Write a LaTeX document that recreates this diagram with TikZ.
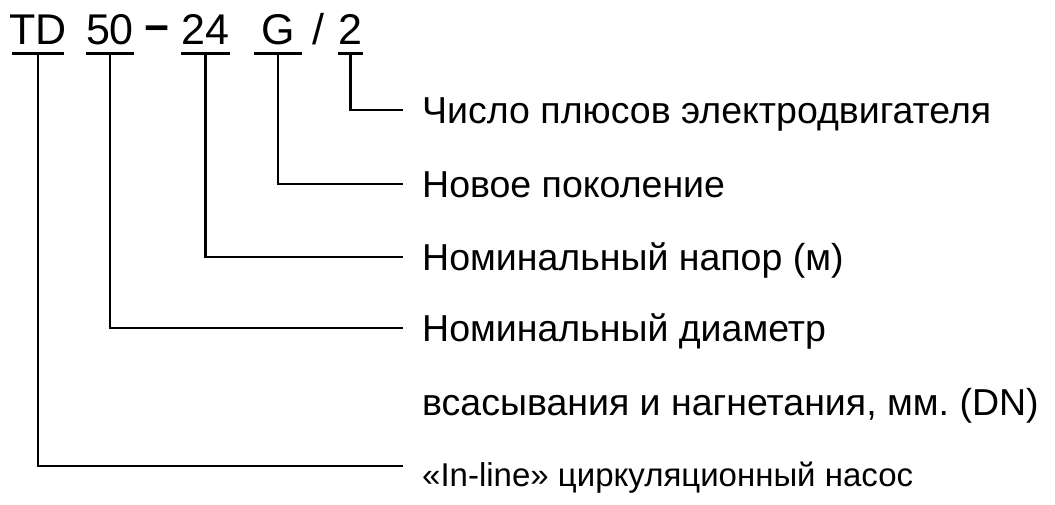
\documentclass[tikz,border=0pt]{standalone}
\usepackage{fontspec}
\setmainfont{Liberation Sans}
\usetikzlibrary{positioning}
\tikzstyle{code}=[anchor=base, inner sep=0pt, text depth=9.3pt, font=\fontsize{43}{43}\selectfont]
\tikzstyle{lbl}=[anchor=west, inner xsep=19pt, inner ysep=0pt, text height=27pt, text depth=0pt, font=\fontsize{37.5}{37.5}\selectfont]
\tikzstyle{lead}=[line width=2.6pt]

\begin{document}
\begin{tikzpicture}[x=1pt,y=-1pt]
\useasboundingbox (0,0) rectangle (1055,504);
% type code
\node[code, minimum width=48pt, inner xsep=-3pt] at (38,44) (td) {TD};
\node[code, minimum width=48pt] at (110,44) (dn) {50};
\node[code, font=\fontsize{43}{43}\selectfont\bfseries] at (157,42) (dash) {−};
\node[code, minimum width=49pt] at (205.5,44) (head) {24};
\node[code, minimum width=48pt] at (278,44) (gen) {G};
\node[code] at (318,44) (slash) {/};
\node[code, minimum width=25pt] at (350.5,44) (poles) {2};

% explanations
\node[lbl] at (403,110) (polesl) {Число плюсов электродвигателя};
\node[lbl] at (403,184) (genl) {Новое поколение};
\node[lbl] at (403,257) (headl) {Номинальный напор (м)};
\node[lbl] at (403,328) (dnl) {Номинальный диаметр};
\node[lbl] at (403,401.5) (dnl2) {всасывания и нагнетания, мм.\ (DN)};
\node[lbl, text height=40pt, font=\fontsize{33}{33}\selectfont] at (403,466) (tdl) {«In-line» циркуляционный насос};

\draw[lead] (td.south west) -- (td.south east);
\draw[lead] (dn.south west) -- (dn.south east);
\draw[lead] (head.south west) -- (head.south east);
\draw[lead] (gen.south west) -- (gen.south east);
\draw[lead] (poles.south west) -- (poles.south east);

\draw[lead] (poles.south) |- (polesl.west);
\draw[lead] (gen.south) |- (genl.west);
\draw[lead] (head.south) |- (headl.west);
\draw[lead] (dn.south) |- (dnl.west);
\draw[lead] (td.south) |- (tdl.west);
\end{tikzpicture}
\end{document}
